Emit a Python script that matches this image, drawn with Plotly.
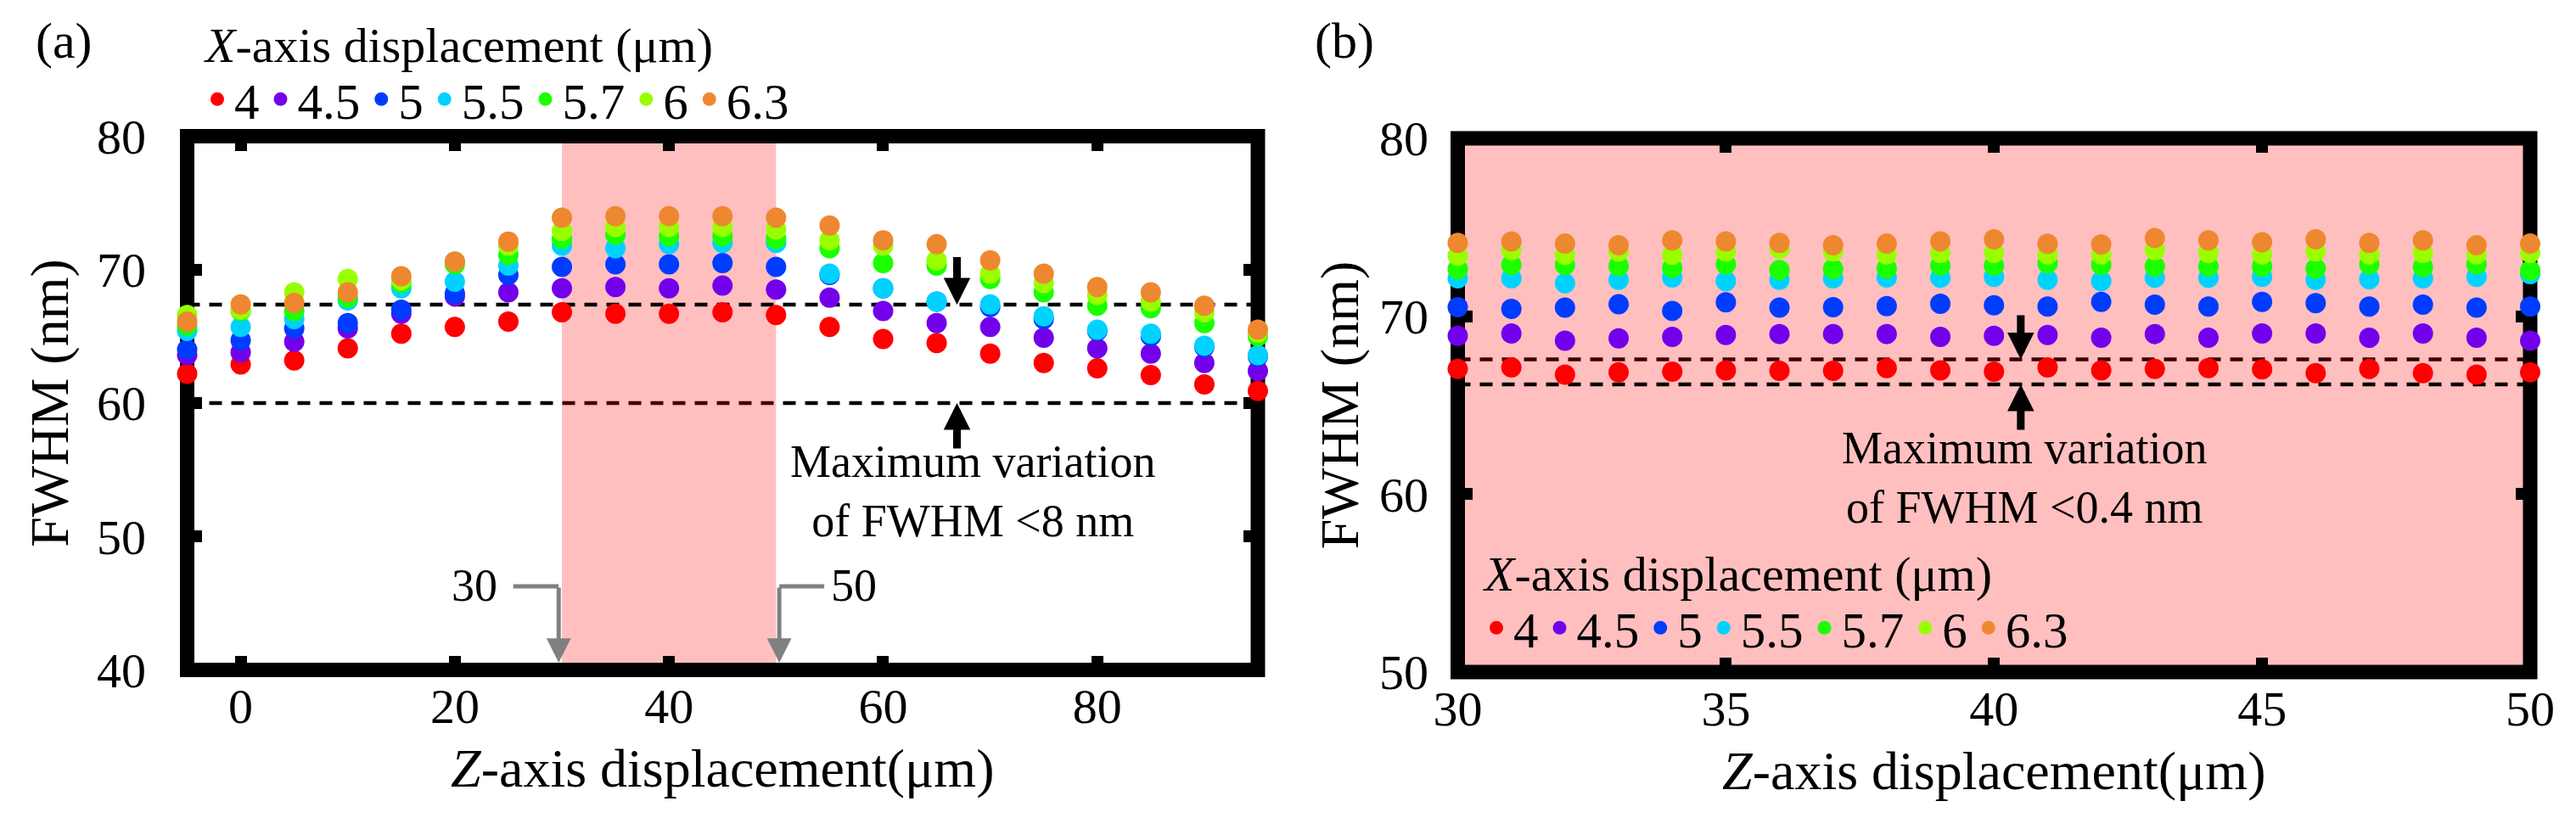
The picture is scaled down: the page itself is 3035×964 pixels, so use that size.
import plotly.graph_objects as go

# ---------------- data ----------------
z_a = [-5, 0, 5, 10, 15, 20, 25, 30, 35, 40, 45, 50, 55, 60, 65, 70, 75, 80, 85, 90, 95]
z_b = [30, 31, 32, 33, 34, 35, 36, 37, 38, 39, 40, 41, 42, 43, 44, 45, 46, 47, 48, 49, 50]

x_disp = ["4", "4.5", "5", "5.5", "5.7", "6", "6.3"]
colors = ["#FF0000", "#7300EA", "#003CFF", "#00D2FF", "#1BFF00", "#99FF00", "#EE8830"]

# panel (a): FWHM (nm) vs Z for each X displacement
a_4   = [62.2, 62.9, 63.2, 64.1, 65.2, 65.7, 66.1, 66.8, 66.7, 66.7, 66.8, 66.6, 65.7, 64.8, 64.5, 63.7, 63.0, 62.6, 62.1, 61.4, 60.9]
a_4_5 = [63.6, 63.8, 64.6, 65.6, 66.7, 68.0, 68.3, 68.6, 68.7, 68.6, 68.8, 68.5, 67.9, 66.9, 66.0, 65.7, 64.9, 64.1, 63.7, 63.0, 62.4]
a_5   = [64.0, 64.7, 65.6, 66.0, 67.0, 68.2, 69.6, 70.2, 70.4, 70.4, 70.5, 70.2, 69.6, 68.6, 67.6, 67.2, 66.3, 65.4, 65.0, 64.2, 63.5]
a_5_5 = [65.4, 65.7, 66.3, 67.7, 68.6, 69.1, 70.3, 71.8, 71.6, 71.9, 72.0, 72.0, 69.7, 68.6, 67.6, 67.4, 66.5, 65.5, 65.2, 64.3, 63.6]
a_5_7 = [65.8, 66.9, 66.9, 67.9, 69.0, 70.4, 71.1, 72.3, 72.6, 72.5, 72.5, 72.3, 71.6, 70.5, 70.3, 69.3, 68.3, 67.3, 67.1, 66.0, 65.0]
a_6   = [66.6, 67.0, 68.3, 69.3, 69.2, 70.6, 71.8, 72.9, 73.2, 73.2, 73.2, 73.0, 72.2, 71.8, 70.7, 69.7, 69.0, 68.1, 67.6, 66.8, 65.3]
a_6_3 = [66.1, 67.4, 67.5, 68.3, 69.5, 70.6, 72.1, 73.9, 74.0, 74.0, 74.0, 73.9, 73.3, 72.2, 71.9, 70.7, 69.7, 68.7, 68.3, 67.3, 65.5]

# panel (b): zoom on Z = 30..50 um
b_4   = [67.04, 67.12, 66.72, 66.85, 66.88, 66.96, 66.93, 66.93, 67.09, 66.96, 66.88, 67.12, 66.96, 67.04, 67.09, 67.01, 66.80, 67.04, 66.80, 66.72, 66.85]
b_4_5 = [68.90, 69.03, 68.63, 68.76, 68.84, 68.95, 69.00, 69.00, 69.00, 68.84, 68.90, 68.95, 68.79, 69.00, 68.79, 69.03, 69.03, 68.79, 69.03, 68.79, 68.63]
b_5   = [70.51, 70.41, 70.49, 70.67, 70.30, 70.78, 70.49, 70.51, 70.57, 70.70, 70.62, 70.54, 70.81, 70.65, 70.54, 70.81, 70.73, 70.54, 70.65, 70.49, 70.54]
b_5_5 = [72.13, 72.13, 71.86, 72.05, 72.18, 71.97, 72.05, 72.13, 72.18, 72.16, 72.21, 72.05, 71.97, 72.16, 72.16, 72.21, 72.05, 72.08, 72.13, 72.21, 72.37]
b_5_7 = [72.64, 72.88, 72.88, 72.81, 72.72, 72.92, 72.60, 72.65, 72.68, 72.84, 72.84, 72.96, 72.89, 72.80, 72.80, 72.80, 72.68, 72.92, 72.76, 72.92, 72.57]
b_6   = [73.40, 73.72, 73.45, 73.64, 73.45, 73.64, 73.80, 73.64, 73.48, 73.56, 73.56, 73.48, 73.48, 73.72, 73.56, 73.48, 73.64, 73.48, 73.56, 73.48, 73.56]
b_6_3 = [74.12, 74.20, 74.08, 73.99, 74.27, 74.20, 74.12, 73.99, 74.08, 74.20, 74.32, 74.07, 74.04, 74.39, 74.27, 74.16, 74.32, 74.12, 74.27, 73.99, 74.08]

series_a = [a_4, a_4_5, a_5, a_5_5, a_5_7, a_6, a_6_3]
series_b = [b_4, b_4_5, b_5, b_5_5, b_5_7, b_6, b_6_3]

# reference levels
a_upper, a_lower = 67.38, 60.0
b_upper, b_lower = 67.57, 66.17
band = [30, 50]

# ---------------- figure ----------------
FONT = "Liberation Serif"
fig = go.Figure()

for name, col, ys in zip(x_disp, colors, series_a):
    fig.add_trace(go.Scatter(x=z_a, y=ys, mode="markers", name=name,
                             marker=dict(color=col, size=24, line=dict(width=0)),
                             cliponaxis=False, xaxis="x", yaxis="y", legend="legend"))
for name, col, ys in zip(x_disp, colors, series_b):
    fig.add_trace(go.Scatter(x=z_b, y=ys, mode="markers", name=name,
                             marker=dict(color=col, size=24, line=dict(width=0)),
                             cliponaxis=False, xaxis="x2", yaxis="y2", legend="legend2"))

W, H = 3035, 964
dom_xa = [212.5 / W, 1474 / W]
dom_ya = [(H - 781.5) / H, (H - 152.5) / H]
dom_xb = [1709.5 / W, 2973 / W]
dom_yb = [(H - 784) / H, (H - 155) / H]

axis_common = dict(ticks="inside", ticklen=17, tickwidth=14, tickcolor="black",
                   mirror="ticks", showline=True, linewidth=1, linecolor="black",
                   showgrid=False, zeroline=False, layer="below traces", automargin=False,
                   tickfont=dict(family=FONT, size=58, color="black"))

xtitle = "<i>Z</i>-axis displacement(μm)"
ytitle = "FWHM (nm)"
title_font = dict(family=FONT, size=64, color="black")

fig.update_layout(
    xaxis=dict(domain=dom_xa, range=[-5, 95], tickvals=[0, 20, 40, 60, 80], anchor="y",
               title=dict(text=xtitle, font=title_font, standoff=18), ticklabelstandoff=-8,
               **axis_common),
    yaxis=dict(domain=dom_ya, range=[40, 80], tickvals=[40, 50, 60, 70, 80], anchor="x",
               title=dict(text=ytitle, font=title_font, standoff=12), ticklabelstandoff=36,
               **axis_common),
    xaxis2=dict(domain=dom_xb, range=[30, 50], tickvals=[30, 35, 40, 45, 50], anchor="y2",
                title=dict(text=xtitle, font=title_font, standoff=18), ticklabelstandoff=-8,
                **axis_common),
    yaxis2=dict(domain=dom_yb, range=[50, 80], tickvals=[50, 60, 70, 80], anchor="x2",
                title=dict(text=ytitle, font=title_font, standoff=3), ticklabelstandoff=22,
                **axis_common),
)

dash = "15px,11px"
pink = "rgba(255,0,0,0.25)"
shapes = [
    # panel (a)
    dict(type="line", xref="x domain", yref="y", x0=0, x1=1, y0=a_lower, y1=a_lower,
         line=dict(color="black", width=4.5, dash=dash), layer="below"),
    dict(type="rect", xref="x", yref="y domain", x0=band[0], x1=band[1], y0=0, y1=1,
         fillcolor=pink, line=dict(width=0), layer="below"),
    dict(type="line", xref="x domain", yref="y", x0=0, x1=1, y0=a_upper, y1=a_upper,
         line=dict(color="black", width=4.5, dash=dash), layer="below"),
    dict(type="rect", xref="x domain", yref="y domain", x0=0, x1=1, y0=0, y1=1,
         line=dict(color="black", width=17), fillcolor="rgba(0,0,0,0)", layer="below"),
    # panel (b)
    dict(type="line", xref="x2 domain", yref="y2", x0=0, x1=1, y0=b_upper, y1=b_upper,
         line=dict(color="black", width=4.5, dash=dash), layer="below"),
    dict(type="rect", xref="x2 domain", yref="y2 domain", x0=0, x1=1, y0=0, y1=1,
         fillcolor=pink, line=dict(width=0), layer="below"),
    dict(type="line", xref="x2 domain", yref="y2", x0=0, x1=1, y0=b_lower, y1=b_lower,
         line=dict(color="black", width=4.5, dash=dash), layer="below"),
    dict(type="rect", xref="x2 domain", yref="y2 domain", x0=0, x1=1, y0=0, y1=1,
         line=dict(color="black", width=17), fillcolor="rgba(0,0,0,0)", layer="below"),
    # gray leader segments for the band limits
    dict(type="line", xref="x", yref="y", x0=25.45, x1=29.7, y0=46.26, y1=46.26,
         line=dict(color="#808080", width=5), layer="above"),
    dict(type="line", xref="x", yref="y", x0=50.3, x1=54.5, y0=46.26, y1=46.26,
         line=dict(color="#808080", width=5), layer="above"),
]

legend_title = "<i>X</i>-axis displacement (μm)"
txt = dict(family=FONT, size=54, color="black")
lt_font = dict(family=FONT, size=58, color="black")
annotations = [
    dict(text="(a)", xref="paper", yref="paper", x=32 / W, y=1 - 40 / H, xanchor="left",
         yanchor="middle", showarrow=False, font=dict(family=FONT, size=60, color="black")),
    dict(text="(b)", xref="paper", yref="paper", x=1539 / W, y=1 - 40 / H, xanchor="left",
         yanchor="middle", showarrow=False, font=dict(family=FONT, size=60, color="black")),
    # legend titles
    dict(text=legend_title, xref="paper", yref="paper", x=230 / W, y=1 - 45 / H, xanchor="left",
         yanchor="middle", showarrow=False, font=lt_font),
    dict(text=legend_title, xref="paper", yref="paper", x=1737 / W, y=1 - 668 / H, xanchor="left",
         yanchor="middle", showarrow=False, font=lt_font),
    dict(text="Maximum variation<br>of FWHM &lt;8 nm", xref="x", yref="y", x=68.35, y=53.4,
         showarrow=False, font=txt, align="center"),
    dict(text="Maximum variation<br>of FWHM &lt;0.4 nm", xref="x2", yref="y2", x=40.56, y=60.9,
         showarrow=False, font=txt, align="center"),
    dict(text="30", xref="x", yref="y", x=21.8, y=46.3, showarrow=False, font=txt),
    dict(text="50", xref="x", yref="y", x=57.3, y=46.3, showarrow=False, font=txt),
    # gray arrows to band limits
    dict(text="", xref="x", yref="y", axref="x", ayref="y", x=29.7, y=40.54, ax=29.7, ay=46.26,
         showarrow=True, arrowhead=2, arrowwidth=5, arrowsize=1.15, arrowcolor="#808080"),
    dict(text="", xref="x", yref="y", axref="x", ayref="y", x=50.3, y=40.54, ax=50.3, ay=46.26,
         showarrow=True, arrowhead=2, arrowwidth=5, arrowsize=1.15, arrowcolor="#808080"),
    # black arrows, panel (a)
    dict(text="", xref="x", yref="y", axref="x", ayref="y", x=66.9, y=a_upper, ax=66.9, ay=71.03,
         showarrow=True, arrowhead=2, arrowwidth=9, arrowsize=0.7, arrowcolor="black"),
    dict(text="", xref="x", yref="y", axref="x", ayref="y", x=66.9, y=a_lower, ax=66.9, ay=56.5,
         showarrow=True, arrowhead=2, arrowwidth=9, arrowsize=0.7, arrowcolor="black"),
    # black arrows, panel (b)
    dict(text="", xref="x2", yref="y2", axref="x2", ayref="y2", x=40.5, y=b_upper, ax=40.5, ay=70.13,
         showarrow=True, arrowhead=2, arrowwidth=9, arrowsize=0.7, arrowcolor="black"),
    dict(text="", xref="x2", yref="y2", axref="x2", ayref="y2", x=40.5, y=b_lower, ax=40.5, ay=63.55,
         showarrow=True, arrowhead=2, arrowwidth=9, arrowsize=0.7, arrowcolor="black"),
]

legend_common = dict(orientation="h", bgcolor="rgba(0,0,0,0)", borderwidth=0,
                     font=dict(family=FONT, size=59, color="black"),
                     xanchor="left", yanchor="top", itemclick=False, itemdoubleclick=False)

fig.update_layout(
    width=W, height=H, autosize=False,
    margin=dict(l=0, r=0, t=0, b=0, autoexpand=False),
    paper_bgcolor="white", plot_bgcolor="white",
    font=dict(family=FONT, color="black"),
    shapes=shapes, annotations=annotations,
    legend=dict(x=228 / W, y=1 - 64 / H, **legend_common),
    legend2=dict(x=1735 / W, y=1 - 687 / H, **legend_common),
)

fig.write_html("out.html")
